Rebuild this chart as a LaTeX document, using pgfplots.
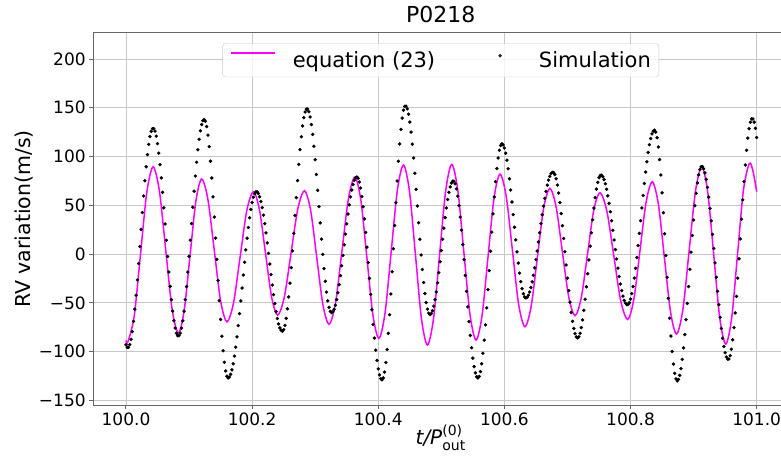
\documentclass[border=0pt]{standalone}
\usepackage{fontspec}
\setmainfont{DejaVu Sans}
\usepackage{amsmath}
\usepackage{pgfplots}
\usepackage{pgfplotstable}
\pgfplotsset{compat=1.18}
\definecolor{mplmagenta}{RGB}{255,0,255}
\pgfplotsset{
    lineleg/.style={legend image code/.code={\draw[mplmagenta, line width=1.5pt] (0pt,7pt) -- (44pt,7pt);}},
    dotleg/.style={legend image code/.code={\fill[black] (22pt,4.5pt) circle (1.5pt); \path[draw opacity=0] (0pt,4.5pt) -- (44pt,4.5pt);}},
}

% simulation: t = 100 + tau/1000
\pgfplotstableread[row sep=\\]{
tau v\\
0 -93\\ 2 -95.7\\ 4 -95.7\\ 6 -92.9\\ 8 -87.4\\ 10 -79.5\\ 12 -69\\ 14 -56.5\\ 16 -42.2\\ 18 -26.6\\
20 -9.7\\ 22 7.7\\ 24 25.3\\ 26 42.7\\ 28 59.6\\ 30 75.2\\ 32 89.5\\ 34 102\\ 36 112.5\\ 38 120.5\\
40 125.9\\ 42 128.7\\ 44 128.7\\ 46 126.1\\ 48 120.9\\ 50 113.3\\ 52 103.5\\ 54 91.7\\ 56 78.1\\ 58 63.3\\
60 47.4\\ 62 30.9\\ 64 14.1\\ 66 -2.4\\ 68 -18.3\\ 70 -33.1\\ 72 -46.7\\ 74 -58.5\\ 76 -68.3\\ 78 -75.9\\
80 -81.1\\ 82 -83.7\\ 84 -83.7\\ 86 -81.1\\ 88 -75.9\\ 90 -68.4\\ 92 -58.6\\ 94 -46.8\\ 96 -33.3\\ 98 -18.4\\
100 -2.4\\ 102 14.3\\ 104 31.3\\ 106 48.1\\ 108 64.5\\ 110 80\\ 112 94.2\\ 114 106.9\\ 116 117.7\\ 118 126.4\\
120 132.8\\ 122 136.7\\ 124 138\\ 126 136.2\\ 128 130.8\\ 130 122\\ 132 110.1\\ 134 95.2\\ 136 78\\ 138 58.7\\
140 38\\ 142 16.4\\ 144 -5.4\\ 146 -27\\ 148 -47.7\\ 150 -67\\ 152 -84.2\\ 154 -99.1\\ 156 -111\\ 158 -119.8\\
160 -125.2\\ 162 -127\\ 164 -126.1\\ 166 -123.3\\ 168 -118.7\\ 170 -112.5\\ 172 -104.7\\ 174 -95.4\\ 176 -84.9\\ 178 -73.4\\
180 -61\\ 182 -48.1\\ 184 -34.8\\ 186 -21.5\\ 188 -8.4\\ 190 4.3\\ 192 16.3\\ 194 27.3\\ 196 37.2\\ 198 45.8\\
200 52.8\\ 202 58.2\\ 204 61.9\\ 206 63.8\\ 208 63.8\\ 210 62.1\\ 212 58.8\\ 214 53.9\\ 216 47.6\\ 218 40\\
220 31.3\\ 222 21.7\\ 224 11.4\\ 226 0.7\\ 228 -10.2\\ 230 -21.1\\ 232 -31.7\\ 234 -41.6\\ 236 -50.8\\ 238 -59\\
240 -66\\ 242 -71.6\\ 244 -75.7\\ 246 -78.2\\ 248 -79\\ 250 -77.5\\ 252 -73.1\\ 254 -65.9\\ 256 -56.1\\ 258 -44\\
260 -29.8\\ 262 -13.9\\ 264 3.3\\ 266 21.3\\ 268 39.6\\ 270 57.8\\ 272 75.4\\ 274 92\\ 276 107.1\\ 278 120.3\\
280 131.4\\ 282 139.9\\ 284 145.7\\ 286 148.6\\ 288 148.7\\ 290 146\\ 292 140.6\\ 294 132.8\\ 296 122.7\\ 298 110.6\\
300 96.8\\ 302 81.6\\ 304 65.4\\ 306 48.7\\ 308 31.9\\ 310 15.4\\ 312 -0.3\\ 314 -14.9\\ 316 -27.9\\ 318 -39\\
320 -48\\ 322 -54.6\\ 324 -58.7\\ 326 -60\\ 328 -59.1\\ 330 -56.6\\ 332 -52.4\\ 334 -46.7\\ 336 -39.6\\ 338 -31.4\\
340 -22.1\\ 342 -12\\ 344 -1.4\\ 346 9.5\\ 348 20.4\\ 350 31\\ 352 41.1\\ 354 50.4\\ 356 58.6\\ 358 65.7\\
360 71.4\\ 362 75.6\\ 364 78.1\\ 366 79\\ 368 77.7\\ 370 73.9\\ 372 67.7\\ 374 59.1\\ 376 48.5\\ 378 36.1\\
380 22.2\\ 382 7.1\\ 384 -8.7\\ 386 -25\\ 388 -41.3\\ 390 -57.1\\ 392 -72.2\\ 394 -86.1\\ 396 -98.5\\ 398 -109.1\\
400 -117.7\\ 402 -123.9\\ 404 -127.7\\ 406 -129\\ 408 -127\\ 410 -121\\ 412 -111.2\\ 414 -97.8\\ 416 -81.3\\ 418 -62.2\\
420 -40.9\\ 422 -18.1\\ 424 5.5\\ 426 29.3\\ 428 52.6\\ 430 74.9\\ 432 95.2\\ 434 112.9\\ 436 127.9\\ 438 139.5\\
440 147.5\\ 442 151.5\\ 444 151.7\\ 446 148.9\\ 448 143.4\\ 450 135.4\\ 452 125.1\\ 454 112.7\\ 456 98.5\\ 458 82.9\\
460 66.4\\ 462 49.3\\ 464 32.1\\ 466 15.2\\ 468 -0.9\\ 470 -15.8\\ 472 -29.1\\ 474 -40.5\\ 476 -49.7\\ 478 -56.5\\
480 -60.6\\ 482 -62\\ 484 -61\\ 486 -58.1\\ 488 -53.3\\ 490 -46.8\\ 492 -38.8\\ 494 -29.4\\ 496 -19\\ 498 -7.9\\
500 3.6\\ 502 15.2\\ 504 26.6\\ 506 37.4\\ 508 47.3\\ 510 56\\ 512 63.3\\ 514 68.9\\ 516 72.8\\ 518 74.8\\
520 74.7\\ 522 72.1\\ 524 66.9\\ 526 59.4\\ 528 49.6\\ 530 37.9\\ 532 24.5\\ 534 9.8\\ 536 -5.8\\ 538 -21.9\\
540 -38.2\\ 542 -54.1\\ 544 -69.3\\ 546 -83.4\\ 548 -96\\ 550 -106.7\\ 552 -115.4\\ 554 -121.8\\ 556 -125.7\\ 558 -127\\
560 -125.4\\ 562 -120.5\\ 564 -112.5\\ 566 -101.7\\ 568 -88.3\\ 570 -72.6\\ 572 -55.2\\ 574 -36.5\\ 576 -16.9\\ 578 2.9\\
580 22.5\\ 582 41.2\\ 584 58.6\\ 586 74.3\\ 588 87.7\\ 590 98.5\\ 592 106.5\\ 594 111.4\\ 596 113\\ 598 111.9\\
600 108.7\\ 602 103.5\\ 604 96.3\\ 606 87.5\\ 608 77.2\\ 610 65.7\\ 612 53.4\\ 614 40.5\\ 616 27.5\\ 618 14.6\\
620 2.3\\ 622 -9.2\\ 624 -19.5\\ 626 -28.3\\ 628 -35.5\\ 630 -40.7\\ 632 -43.9\\ 634 -45\\ 636 -44.3\\ 638 -42.3\\
640 -38.9\\ 642 -34.3\\ 644 -28.5\\ 646 -21.8\\ 648 -14.1\\ 650 -5.7\\ 652 3.2\\ 654 12.4\\ 656 21.9\\ 658 31.2\\
660 40.3\\ 662 49.1\\ 664 57.1\\ 666 64.3\\ 668 70.6\\ 670 75.8\\ 672 79.7\\ 674 82.5\\ 676 83.8\\ 678 83.7\\
680 81.5\\ 682 77.2\\ 684 70.8\\ 686 62.6\\ 688 52.8\\ 690 41.5\\ 692 29.1\\ 694 16\\ 696 2.4\\ 698 -11.2\\
700 -24.6\\ 702 -37.5\\ 704 -49.3\\ 706 -59.9\\ 708 -68.9\\ 710 -76.3\\ 712 -81.6\\ 714 -84.9\\ 716 -86\\ 718 -84.8\\
720 -81.2\\ 722 -75.4\\ 724 -67.5\\ 726 -57.7\\ 728 -46.3\\ 730 -33.6\\ 732 -20.1\\ 734 -6\\ 736 8.1\\ 738 21.9\\
740 35.2\\ 742 47.2\\ 744 57.8\\ 746 66.7\\ 748 73.6\\ 750 78.3\\ 752 80.7\\ 754 80.8\\ 756 79.3\\ 758 76.4\\
760 72.1\\ 762 66.5\\ 764 59.7\\ 766 52\\ 768 43.4\\ 770 34.1\\ 772 24.4\\ 774 14.5\\ 776 4.6\\ 778 -5.1\\
780 -14.4\\ 782 -23\\ 784 -30.7\\ 786 -37.5\\ 788 -43.1\\ 790 -47.4\\ 792 -50.3\\ 794 -51.8\\ 796 -51.8\\ 798 -49.9\\
800 -46.1\\ 802 -40.6\\ 804 -33.3\\ 806 -24.6\\ 808 -14.6\\ 810 -3.5\\ 812 8.7\\ 814 21.2\\ 816 34.2\\ 818 47.3\\
820 60.1\\ 822 72.4\\ 824 84.1\\ 826 94.7\\ 828 104.2\\ 830 112.1\\ 832 118.5\\ 834 123.2\\ 836 126\\ 838 127\\
840 125\\ 842 119.3\\ 844 109.8\\ 846 96.9\\ 848 81.1\\ 850 62.8\\ 852 42.4\\ 854 20.8\\ 856 -1.5\\ 858 -23.8\\
860 -45.4\\ 862 -65.8\\ 864 -84.1\\ 866 -99.9\\ 868 -112.8\\ 870 -122.3\\ 872 -128\\ 874 -130\\ 876 -128.6\\ 878 -124.3\\
880 -117.4\\ 882 -107.9\\ 884 -96.2\\ 886 -82.5\\ 888 -67.2\\ 890 -50.6\\ 892 -33.3\\ 894 -15.6\\ 896 2\\ 898 19\\
900 35\\ 902 49.6\\ 904 62.3\\ 906 73\\ 908 81.2\\ 910 86.8\\ 912 89.6\\ 914 89.7\\ 916 87.5\\ 918 83.2\\
920 76.7\\ 922 68.4\\ 924 58.3\\ 926 46.8\\ 928 34\\ 930 20.2\\ 932 5.8\\ 934 -9\\ 936 -23.8\\ 938 -38.2\\
940 -52\\ 942 -64.8\\ 944 -76.3\\ 946 -86.4\\ 948 -94.7\\ 950 -101.2\\ 952 -105.5\\ 954 -107.7\\ 956 -107.6\\ 958 -104.2\\
960 -97.6\\ 962 -87.9\\ 964 -75.4\\ 966 -60.4\\ 968 -43.3\\ 970 -24.6\\ 972 -4.8\\ 974 15.5\\ 976 35.8\\ 978 55.6\\
980 74.3\\ 982 91.4\\ 984 106.4\\ 986 118.9\\ 988 128.6\\ 990 135.2\\ 992 138.6\\ 994 138.6\\ 996 135.3\\ 998 128.9\\
1000 119.5\\
}\simdata

% equation (23): extrema and quarter points, drawn smooth
\pgfplotstableread[row sep=\\]{
tau v\\
0 -88.5\\ 3 -90\\ 13 -63.7\\ 23 -0.3\\ 33 63.2\\ 43 89.5\\ 53 64.5\\ 63 4.3\\ 73 -56\\ 83 -81\\
92.25 -57.9\\ 101.5 -2\\ 110.75 53.9\\ 120 77\\ 130 55.6\\ 140 3.8\\ 150 -48\\ 160 -69.5\\ 170.5 -50\\ 181 -2.8\\
191.5 44.5\\ 202 64\\ 211.6 45.5\\ 221.25 0.7\\ 230.9 -44.1\\ 240.5 -62.6\\ 251.1 -43.9\\ 261.75 1.2\\ 272.4 46.3\\ 283 65\\
292.75 44.9\\ 302.5 -3.5\\ 312.25 -51.9\\ 322 -72\\ 332.25 -49.9\\ 342.5 3.5\\ 352.75 56.9\\ 363 79\\ 372.5 54.8\\ 382 -3.8\\
391.5 -62.3\\ 401 -86.5\\ 410.75 -60.5\\ 420.5 2.4\\ 430.25 65.3\\ 440 91.3\\ 449.5 64.3\\ 459 -1\\ 468.5 -66.3\\ 478 -93.3\\
487.6 -66.2\\ 497.25 -0.7\\ 506.9 64.9\\ 516.5 92\\ 526.1 65.6\\ 535.75 1.9\\ 545.4 -61.8\\ 555 -88.2\\ 564.5 -63.3\\ 574 -3.1\\
583.5 57.1\\ 593 82\\ 602.9 59.1\\ 612.75 3.8\\ 622.6 -51.6\\ 632.5 -74.5\\ 642.4 -53.7\\ 652.25 -3.6\\ 662.1 46.6\\ 672 67.4\\
682 48.3\\ 692 2.1\\ 702 -44.1\\ 712 -63.2\\ 721.9 -44.7\\ 731.75 -0.1\\ 741.6 44.5\\ 751.5 63\\ 762.5 44\\ 773.5 -2\\
784.5 -48\\ 795.5 -67\\ 805.25 -46.3\\ 815 3.6\\ 824.75 53.5\\ 834.5 74.2\\ 844.1 51.3\\ 853.75 -3.9\\ 863.4 -59.1\\ 873 -82\\
883 -56.9\\ 893 3.8\\ 903 64.5\\ 913 89.6\\ 922.5 63\\ 932 -1.4\\ 941.5 -65.7\\ 951 -92.3\\ 960.4 -65.2\\ 969.75 0.4\\
979.1 65.9\\ 988.5 93\\ 994.5 84\\ 1000 64\\
}\eqdata

\begin{document}
\begin{tikzpicture}
\begin{axis}[
    scale only axis,
    width=695pt, height=372.45pt,
    xmin=99.948, xmax=101.05,
    ymin=-155, ymax=227,
    xtick={100,100.2,100.4,100.6,100.8,101},
    xticklabels={100.0,100.2,100.4,100.6,100.8,101.0},
    ytick={-150,-100,-50,0,50,100,150,200},
    yticklabels={−150,−100,−50,0,50,100,150,200},
    tick pos=left,
    tick align=outside,
    major tick length=4pt,
    tick style={black!60, line width=1pt},
    axis line style={black!60, line width=1pt},
    grid=major,
    major grid style={black!22, line width=0.9pt},
    ticklabel style={font=\fontsize{17pt}{20pt}\selectfont},
    title={P0218},
    title style={font=\fontsize{22pt}{26pt}\selectfont, at={(axis description cs:0.5,1)}, anchor=base, yshift=4.4pt},
    xlabel={\textit{t/P}$^{\text{(0)}}_{\text{out}}$},
    xlabel style={font=\fontsize{20pt}{24pt}\selectfont, at={(axis description cs:0.5,-0.1055)}, anchor=base},
    every axis y label/.style={font=\fontsize{20.5pt}{24pt}\selectfont, at={(axis description cs:-0.0996,0.5)}, rotate=90, anchor=center},
    ylabel={RV variation(m/s)},
    legend columns=2,
    legend style={
        at={(axis description cs:0.5,0.9715)}, anchor=north,
        draw=black!20, rounded corners=3pt,
        fill=white, fill opacity=0.8, text opacity=1,
        font=\fontsize{21pt}{24pt}\selectfont,
        inner xsep=8pt, inner ysep=8pt,
        nodes={inner sep=0pt},
        /tikz/every odd column/.style={column sep=16.7pt},
        /tikz/every even column/.style={column sep=42.7pt},
    },
]
\addplot[mplmagenta, line width=1.5pt, smooth, forget plot]
    table[x expr=100+\thisrow{tau}/1000, y=v] {\eqdata};
\addplot[only marks, mark=*, mark size=1.5pt, black, forget plot]
    table[x expr=100+\thisrow{tau}/1000, y=v] {\simdata};
\addlegendimage{lineleg}
\addlegendentry{equation (23)}
\addlegendimage{dotleg}
\addlegendentry{Simulation}
\coordinate (bl) at (rel axis cs:0,0);
\coordinate (tr) at (rel axis cs:1,1);
\end{axis}
\pgfresetboundingbox
\path[use as bounding box] ([xshift=-93.2pt,yshift=-53pt]bl) rectangle ([xshift=-7.2pt,yshift=32.7pt]tr);
\end{tikzpicture}
\end{document}
